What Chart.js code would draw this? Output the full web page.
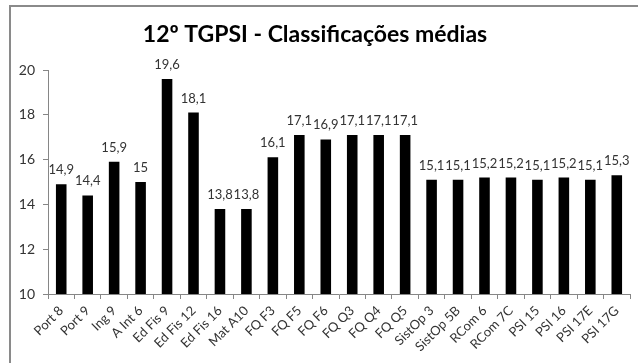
<!DOCTYPE html>
<html>
<head>
<meta charset="utf-8">
<script src="https://cdn.jsdelivr.net/npm/chart.js@4"></script>
<style>
  html, body { margin: 0; padding: 0; background: #fff; }
  #wrap { position: relative; width: 638px; height: 363px; }
</style>
</head>
<body>
<div id="wrap"><canvas id="chart" width="638" height="363"></canvas></div>
<script>
// Disciplinas / módulos
const categories = [
  'Port 8', 'Port 9', 'Ing 9', 'A Int 6', 'Ed Fis 9', 'Ed Fis 12', 'Ed Fis 16',
  'Mat A10', 'FQ F3', 'FQ F5', 'FQ F6', 'FQ Q3', 'FQ Q4', 'FQ Q5',
  'SistOp 3', 'SistOp 5B', 'RCom 6', 'RCom 7C', 'PSI 15', 'PSI 16', 'PSI 17E', 'PSI 17G'
];

// Classificação média de cada módulo
const averages = [
  14.9, 14.4, 15.9, 15, 19.6, 18.1, 13.8,
  13.8, 16.1, 17.1, 16.9, 17.1, 17.1, 17.1,
  15.1, 15.1, 15.2, 15.2, 15.1, 15.2, 15.1, 15.3
];

// Eixo dos valores
const yTicks = [10, 12, 14, 16, 18, 20];

const titleText = '12º TGPSI - Classificações médias';
const axisGray = '#868686';
const textColor = '#333';

const fmt = v => String(v).replace('.', ',');

// Moldura exterior do gráfico
const frame = {
  id: 'frame',
  beforeDraw(chart) {
    const ctx = chart.ctx;
    ctx.save();
    ctx.fillStyle = '#fff';
    ctx.fillRect(0, 0, chart.width, chart.height);
    ctx.strokeStyle = '#8a8a8a';
    ctx.lineWidth = 2;
    ctx.strokeRect(10, 6, 700, 400);
    ctx.restore();
  }
};

// Valores por cima de cada barra
const valueLabels = {
  id: 'valueLabels',
  afterDatasetsDraw(chart) {
    const ctx = chart.ctx;
    const meta = chart.getDatasetMeta(0);
    const data = chart.data.datasets[0].data;
    ctx.save();
    ctx.font = '13px Lato';
    ctx.fillStyle = textColor;
    ctx.textAlign = 'center';
    ctx.textBaseline = 'alphabetic';
    meta.data.forEach((bar, i) => {
      ctx.fillText(fmt(data[i]), bar.x, bar.y - 10);
    });
    ctx.restore();
  }
};

new Chart(document.getElementById('chart'), {
  type: 'bar',
  data: {
    labels: categories,
    datasets: [{
      data: averages,
      backgroundColor: '#000',
      borderWidth: 0,
      barPercentage: 0.8,
      categoryPercentage: 0.5
    }]
  },
  options: {
    responsive: false,
    animation: false,
    devicePixelRatio: 1,
    layout: { padding: { left: 0, right: 8, top: 0, bottom: 0 } },
    plugins: {
      legend: { display: false },
      tooltip: { enabled: false },
      title: {
        display: true,
        text: titleText,
        color: '#000',
        font: { family: 'Lato', size: 23, weight: 'bold', lineHeight: 1.2 },
        padding: { top: 21, bottom: 21.4 }
      }
    },
    scales: {
      x: {
        grid: {
          offset: true,
          drawOnChartArea: false,
          drawTicks: true,
          tickLength: 5,
          color: axisGray
        },
        border: { color: axisGray, width: 1 },
        ticks: {
          color: textColor,
          font: { family: 'Lato', size: 13 },
          maxRotation: 45,
          minRotation: 45,
          autoSkip: false,
          padding: 4
        },
        afterFit(scale) { scale.height = 69; }
      },
      y: {
        min: 10,
        max: 20,
        grid: {
          drawOnChartArea: false,
          drawTicks: true,
          tickLength: 5,
          color: axisGray
        },
        border: { color: axisGray, width: 1 },
        ticks: {
          stepSize: 2,
          color: textColor,
          font: { family: 'Lato', size: 14 },
          padding: 8,
          callback: (v) => yTicks.includes(v) ? String(v) : ''
        },
        afterFit(scale) { scale.width = 48; }
      }
    }
  },
  plugins: [frame, valueLabels]
});
</script>
</body>
</html>
